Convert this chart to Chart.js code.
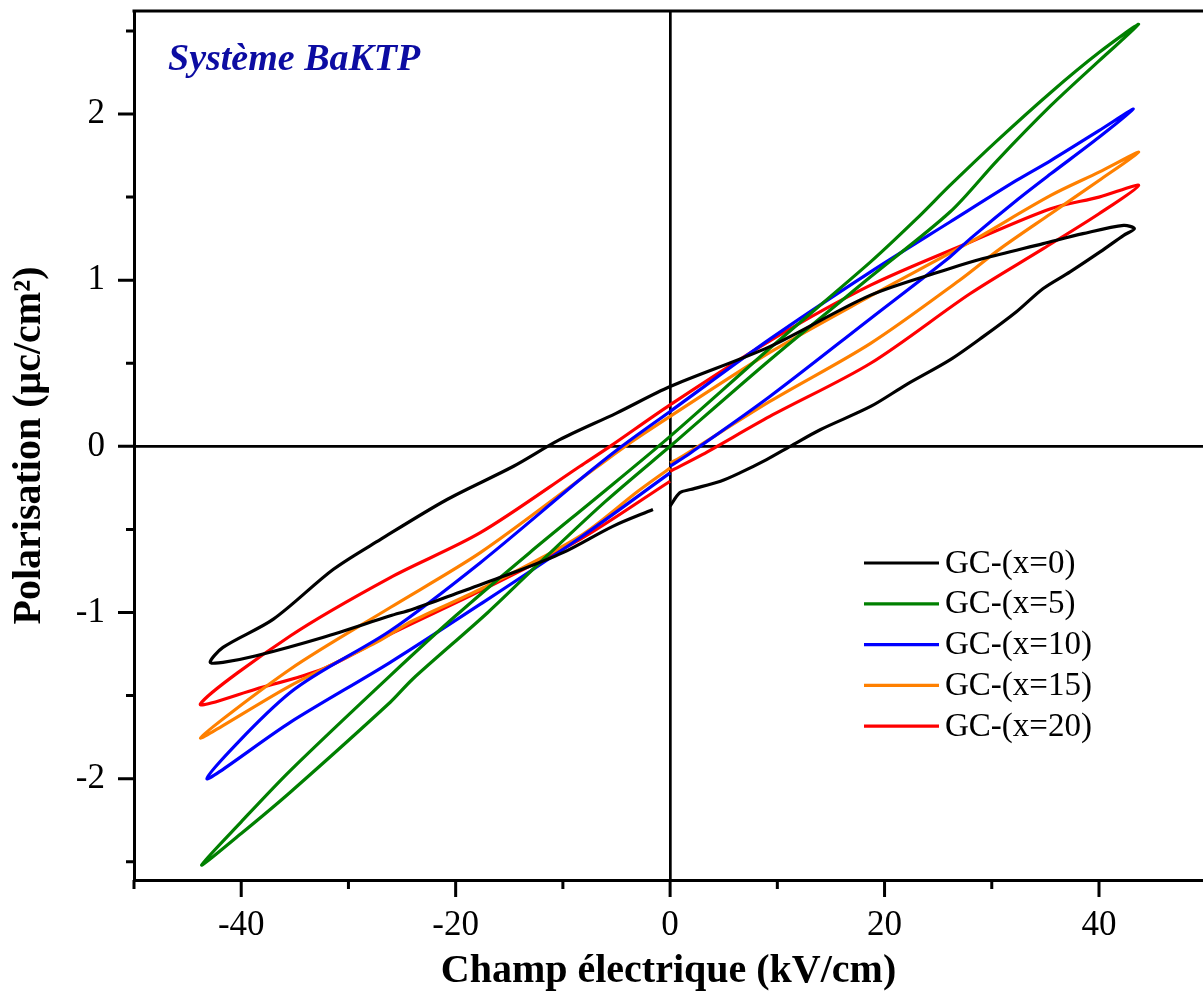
<!DOCTYPE html>
<html>
<head>
<meta charset="utf-8">
<script src="https://cdn.jsdelivr.net/npm/chart.js@4.4.0/dist/chart.umd.min.js"></script>
<style>
  html, body { margin: 0; padding: 0; background: #fff; }
  #wrap { width: 1203px; height: 994px; }
</style>
</head>
<body>
<div id="wrap"><canvas id="pe" width="1203" height="994"></canvas></div>
<script>
// P-E loops (E in kV/cm, P in µC/cm²)
const seriesNames = ['GC-(x=0)', 'GC-(x=5)', 'GC-(x=10)', 'GC-(x=15)', 'GC-(x=20)'];
const seriesColors = ['#000000', '#008000', '#0000ff', '#ff8000', '#ff0000'];

const eX0 = [0, 0.9, 1.9, 4.7, 6.5, 9.0, 11.2, 14, 18.7, 22, 26.1, 29.2, 32.3, 34.8, 37.3, 40.1, 42.3, 43.3, 42.3, 38.5, 34.8, 29.2, 26.1, 18.7, 9.3, 0, -5, -10.3, -14.6, -20.8, -27, -31.4, -37, -41.7, -42.9, -41.7, -38.6, -32.4, -26.1, -24, -19.3, -14.6, -10, -5.3, -1.6];
const pX0 = [-0.36, -0.28, -0.26, -0.21, -0.16, -0.08, 0, 0.1, 0.24, 0.37, 0.52, 0.66, 0.81, 0.95, 1.05, 1.17, 1.27, 1.31, 1.33, 1.28, 1.22, 1.13, 1.07, 0.91, 0.6, 0.36, 0.2, 0.04, -0.12, -0.32, -0.56, -0.74, -1.04, -1.21, -1.30, -1.30, -1.26, -1.15, -1.02, -0.98, -0.87, -0.76, -0.64, -0.48, -0.38];

const eX5 = [0, 9.3, 18.7, 26.1, 30.5, 35.5, 40, 43.7, 40, 35.5, 30.5, 26.1, 23, 18.7, 9.3, 0, -6.5, -13.1, -20, -26.1, -35.4, -40, -43.7, -40, -35.4, -26.1, -24, -17, -11.5, -6, 0];
const pX5 = [0, 0.52, 1.02, 1.41, 1.72, 2.05, 2.32, 2.54, 2.37, 2.13, 1.84, 1.57, 1.37, 1.11, 0.59, 0.06, -0.29, -0.64, -1.02, -1.38, -1.95, -2.26, -2.52, -2.33, -2.08, -1.54, -1.40, -1.0, -0.66, -0.33, 0];

const eX10 = [0, 1.9, 9.3, 18.7, 26.1, 28, 32.5, 35.5, 40, 43.2, 40, 35.5, 32.3, 26.1, 18.7, 9.3, 0, -4.5, -8.4, -17.7, -26.1, -35.4, -43.2, -35.4, -26.1, -17.7, -8.4, 0];
const pX10 = [-0.12, -0.04, 0.30, 0.77, 1.14, 1.25, 1.49, 1.64, 1.86, 2.03, 1.90, 1.72, 1.60, 1.35, 1.05, 0.645, 0.21, 0, -0.2, -0.70, -1.11, -1.48, -2.0, -1.66, -1.30, -0.95, -0.55, -0.16];

const eX15 = [0, 0.9, 9.3, 18.7, 27, 30.8, 35.5, 40, 43.7, 40, 35.5, 28, 18.7, 9.3, 0, -4.2, -8.4, -17.7, -26.1, -35.4, -43.8, -35.4, -27.4, -24, -17.7, -8.4, -3, 0];
const pX15 = [-0.10, -0.07, 0.27, 0.62, 1.0, 1.19, 1.40, 1.60, 1.77, 1.65, 1.51, 1.23, 0.905, 0.565, 0.18, 0, -0.2, -0.64, -0.97, -1.34, -1.755, -1.44, -1.18, -1.05, -0.86, -0.54, -0.27, -0.13];

const eX20 = [0, 3, 9.3, 18.7, 28, 34.8, 40, 43.7, 40, 35.5, 28, 18.7, 9.3, 0, -5.6, -8.4, -17.7, -26.1, -35.4, -43.8, -38.6, -32.4, -26.1, -17.7, -8.4, 0];
const pX20 = [-0.15, -0.05, 0.18, 0.50, 0.92, 1.19, 1.40, 1.57, 1.50, 1.43, 1.23, 0.97, 0.635, 0.25, 0, -0.12, -0.52, -0.79, -1.14, -1.55, -1.46, -1.34, -1.13, -0.87, -0.56, -0.21];

const loops = [[eX0, pX0], [eX5, pX5], [eX10, pX10], [eX15, pX15], [eX20, pX20]];

const serif = 'Liberation Serif';
Chart.defaults.font.family = serif;
Chart.defaults.color = '#000';

const isWhole = v => Math.abs(v - Math.round(v)) < 1e-6;

// top frame line, tick marks (major/minor), inset label and legend
const decor = {
  id: 'decor',
  afterDraw(chart) {
    const { ctx, chartArea: a, scales: { x, y } } = chart;
    ctx.save();
    ctx.strokeStyle = '#000';
    ctx.lineWidth = 3;
    ctx.beginPath();
    ctx.moveTo(a.left - 1.5, a.top);
    ctx.lineTo(a.right, a.top);
    x.ticks.forEach(t => {
      const px = x.getPixelForValue(t.value);
      const len = Math.round(t.value) % 20 === 0 ? 17 : 9;
      ctx.moveTo(px, a.bottom);
      ctx.lineTo(px, a.bottom + len);
    });
    y.ticks.forEach(t => {
      const py = y.getPixelForValue(t.value);
      const len = isWhole(t.value) ? 16 : 8;
      ctx.moveTo(a.left, py);
      ctx.lineTo(a.left - len, py);
    });
    ctx.stroke();

    ctx.fillStyle = '#0c0ca2';
    ctx.font = 'italic bold 38px "' + serif + '"';
    ctx.textBaseline = 'alphabetic';
    ctx.fillText('Système BaKTP', 168, 70);

    // legend
    ctx.font = '33px "' + serif + '"';
    ctx.textBaseline = 'middle';
    ctx.lineWidth = 3.2;
    seriesNames.forEach((name, i) => {
      const ly = 563 + i * 40.8;
      ctx.strokeStyle = seriesColors[i];
      ctx.beginPath();
      ctx.moveTo(864, ly);
      ctx.lineTo(939, ly);
      ctx.stroke();
      ctx.fillStyle = '#000';
      ctx.fillText(name, 945, ly + 1);
    });
    ctx.restore();
  }
};

new Chart(document.getElementById('pe'), {
  type: 'scatter',
  data: {
    datasets: loops.map(([es, ps], i) => ({
      label: seriesNames[i],
      data: es.map((e, k) => ({ x: e, y: ps[k] })),
      showLine: true,
      borderColor: seriesColors[i],
      borderWidth: 3.2,
      pointRadius: 0,
      tension: 0.3,
      fill: false
    }))
  },
  options: {
    responsive: false,
    animation: false,
    devicePixelRatio: 1,
    layout: { padding: { top: 11, right: 0, bottom: 0, left: 0 } },
    plugins: { legend: { display: false }, tooltip: { enabled: false } },
    scales: {
      x: {
        type: 'linear',
        min: -50,
        max: 49.7,
        ticks: {
          stepSize: 10,
          includeBounds: false,
          autoSkip: false,
          maxRotation: 0,
          padding: 25,
          font: { size: 35 },
          color: '#000',
          callback: v => (Math.round(v) % 20 === 0 ? Math.round(v) : '')
        },
        grid: {
          drawTicks: false,
          lineWidth: 2.7,
          color: c => (c.tick && c.tick.value === 0 ? '#000' : 'rgba(0,0,0,0)')
        },
        border: { display: true, color: '#000', width: 3 },
        title: {
          display: true,
          text: 'Champ électrique (kV/cm)',
          color: '#000',
          padding: 0,
          font: { size: 40, weight: 'bold', lineHeight: 1.1 }
        },
        afterFit: s => { s.height = 114; s.paddingLeft = 0; s.paddingRight = 0; }
      },
      y: {
        type: 'linear',
        min: -2.61,
        max: 2.62,
        ticks: {
          stepSize: 0.5,
          includeBounds: false,
          autoSkip: false,
          padding: 29,
          font: { size: 35 },
          color: '#000',
          callback: v => (isWhole(v) ? Math.round(v) : '')
        },
        grid: {
          drawTicks: false,
          lineWidth: 2.7,
          color: c => (c.tick && Math.abs(c.tick.value) < 1e-6 ? '#000' : 'rgba(0,0,0,0)')
        },
        border: { display: true, color: '#000', width: 3 },
        title: {
          display: true,
          text: 'Polarisation (μc/cm²)',
          color: '#000',
          padding: { top: 8, bottom: 0 },
          font: { size: 40, weight: 'bold', lineHeight: 1.1 }
        },
        afterFit: s => { s.width = 134; s.paddingTop = 0; s.paddingBottom = 0; }
      }
    }
  },
  plugins: [decor]
});
</script>
</body>
</html>
